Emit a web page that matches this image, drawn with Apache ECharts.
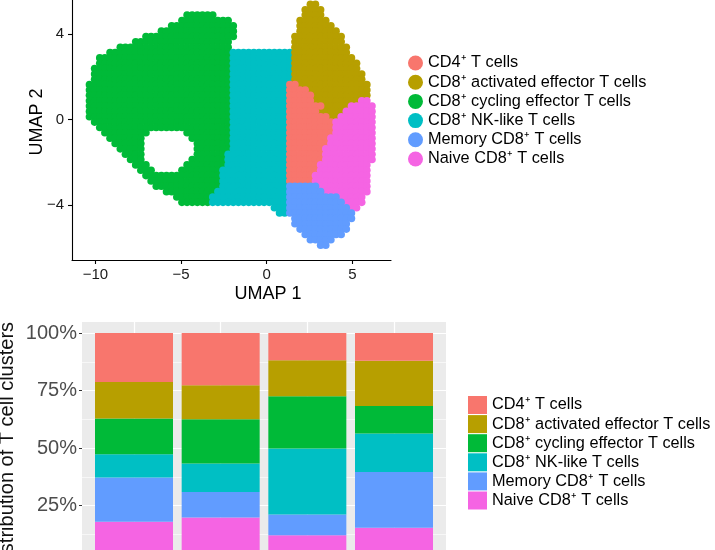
<!DOCTYPE html>
<html>
<head>
<meta charset="utf-8">
<script src="https://cdn.jsdelivr.net/npm/echarts@6/dist/echarts.min.js"></script>
<style>
  html, body { margin: 0; padding: 0; background: #fff; }
  #chart { width: 715px; height: 550px; }
</style>
</head>
<body>
<div id="chart"></div>
<script>
// clusters (legend order)
var clusterNames = ['CD4⁺ T cells', 'CD8⁺ activated effector T cells', 'CD8⁺ cycling effector T cells',
  'CD8⁺ NK-like T cells', 'Memory CD8⁺ T cells', 'Naive CD8⁺ T cells'];
var clusterCodes = ['R', 'Y', 'G', 'C', 'B', 'P'];
var clusterColors = ['#F8766D', '#B79F00', '#00BA38', '#00BFC4', '#619CFF', '#F564E3'];

// UMAP tick labels
var umap1Ticks = [-10, -5, 0, 5];
var umap2Ticks = [-4, 0, 4];

// UMAP map: one entry per row (UMAP 2 from 5.375 down in 0.25 steps),
// each segment = cluster code + first-last column (UMAP 1 from -10.65 in 0.3 steps)
var umapX0 = -10.65, umapDX = 0.3;
var umapY0 = 5.375, umapDY = 0.25;
var umapRows = [
  'Y44-45',
  'Y43-46',
  'G20-25 Y43-46',
  'G19-28 Y42-47',
  'G17-29 Y42-48',
  'G15-29 Y42-49',
  'G12-29 Y41-50',
  'G10-28 Y41-50',
  'G7-28 Y41-51',
  'G5-28 C29-40 Y41-51',
  'G3-28 C29-40 Y41-52',
  'G3-28 C29-40 Y41-53',
  'G2-28 C29-40 Y41-53',
  'G2-28 C29-40 Y41-54',
  'G2-28 C29-40 Y41-54',
  'G1-28 C29-39 R40-41 Y42-55',
  'G1-28 C29-39 R40-43 Y44-55',
  'G1-28 C29-39 R40-44 Y45-55',
  'G1-28 C29-39 R40-44 Y45-53 P54-55',
  'G1-28 C29-39 R40-46 Y47-51 P52-56',
  'G1-28 C29-39 R40-45 Y46-50 P51-56',
  'G1-28 C29-39 R40-47 Y48-49 P50-56',
  'G2-28 C29-39 R40-48 P49-56',
  'G3-28 C29-39 R40-48 P49-56',
  'G4-12 G20-28 C29-39 R40-48 P49-56',
  'G5-11 G21-28 C29-39 R40-47 P48-56',
  'G6-11 G22-28 C29-39 R40-47 P48-56',
  'G7-11 G22-28 C29-39 R40-46 P47-56',
  'G8-11 G22-27 C28-39 R40-46 P47-56',
  'G9-11 G21-27 C28-39 R40-46 P47-56',
  'G10-12 G20-27 C28-39 R40-45 P46-55',
  'G11-13 G19-26 C27-39 R40-45 P46-55',
  'G12-26 C27-39 R40-44 P45-55',
  'G13-26 C27-39 R40-44 P45-55',
  'G14-26 C27-39 B40-45 P46-55',
  'G16-25 C26-39 B40-46 P47-55',
  'G18-24 C25-39 B40-49 P50-54',
  'G19-24 C25-39 B40-50 P51-54',
  'C37-39 B40-51 P52-53',
  'C38-39 B40-52',
  'B41-52',
  'B41-51',
  'B42-51',
  'B43-50',
  'B44-48',
  'B46-47'
];

// stacked bars (percent of T cells per sample)
var sampleNames = ['Sample 1', 'Sample 2', 'Sample 3', 'Sample 4'];
var cd4Pct       = [21.3, 22.7, 11.8, 12.1];
var activatedPct = [15.9, 14.8, 15.7, 19.6];
var cyclingPct   = [15.5, 19.2, 22.7, 12.0];
var nkLikePct    = [10.1, 12.4, 28.7, 16.7];
var memoryPct    = [19.3, 11.1,  9.0, 24.3];
var naivePct     = [17.9, 19.8, 12.1, 15.3];

var FONT = '"Liberation Sans", Arial, Helvetica, sans-serif';

// build the UMAP points per cluster
var umapPoints = {};
clusterCodes.forEach(function (c) { umapPoints[c] = []; });
umapRows.forEach(function (row, j) {
  row.split(' ').forEach(function (seg) {
    var code = seg.charAt(0);
    var range = seg.substring(1).split('-');
    for (var i = +range[0]; i <= +range[1]; i++) {
      umapPoints[code].push([umapX0 + umapDX * i, umapY0 - umapDY * j]);
    }
  });
});

var chart = echarts.init(document.getElementById('chart'));

var series = [];
// scatter: draw big clusters first
[2, 3, 1, 0, 5, 4].forEach(function (k) {
  series.push({
    type: 'scatter',
    name: clusterNames[k],
    xAxisIndex: 0,
    yAxisIndex: 0,
    symbol: 'circle',
    symbolSize: 7.6,
    itemStyle: { color: clusterColors[k], opacity: 1 },
    data: umapPoints[clusterCodes[k]],
    silent: true
  });
});

// bars: bottom of the stack first
var barValues = [cd4Pct, activatedPct, cyclingPct, nkLikePct, memoryPct, naivePct];
[5, 4, 3, 2, 1, 0].forEach(function (k) {
  series.push({
    type: 'bar',
    name: clusterNames[k],
    xAxisIndex: 2,
    yAxisIndex: 2,
    stack: 'total',
    barWidth: 78,
    itemStyle: { color: clusterColors[k] },
    data: barValues[k],
    silent: true
  });
});

var minus = function (v) { return String(v).replace('-', '\u2212'); };

var option = {
  animation: false,
  textStyle: { fontFamily: FONT },
  grid: [
    { left: 72, top: 0, width: 319, height: 260, outerBoundsMode: 'none' },
    // grey panel
    { left: 82, top: 322, width: 364, height: 241, show: true, backgroundColor: '#EBEBEB', borderWidth: 0, outerBoundsMode: 'none' },
    // bars
    { left: 90.67, top: 333, width: 346.67, height: 230, outerBoundsMode: 'none' },
    // horizontal grid lines + percent axis
    { left: 82, top: 333, width: 364, height: 230, outerBoundsMode: 'none' }
  ],
  xAxis: [
    {
      type: 'value', gridIndex: 0, min: -11.37, max: 7.26,
      axisLine: { onZero: false, lineStyle: { color: '#000', width: 1.1 } },
      axisTick: { customValues: umap1Ticks, length: 4, lineStyle: { color: '#000', width: 1.1 } },
      axisLabel: { customValues: umap1Ticks, formatter: minus, fontSize: 15, color: '#1a1a1a', margin: 7, fontFamily: FONT },
      splitLine: { show: false }
    },
    {
      type: 'value', gridIndex: 1, min: 0.4, max: 4.6,
      axisLine: { show: false }, axisTick: { show: false }, axisLabel: { show: false },
      splitLine: { show: true, showMinLine: false, showMaxLine: false, lineStyle: { color: '#fff', width: 1.2 } }
    },
    {
      type: 'category', gridIndex: 2, data: sampleNames, boundaryGap: true, show: false
    },
    {
      type: 'value', gridIndex: 3, min: 0, max: 1, show: false
    }
  ],
  yAxis: [
    {
      type: 'value', gridIndex: 0, min: -6.57, max: 5.58,
      axisLine: { onZero: false, lineStyle: { color: '#000', width: 1.1 } },
      axisTick: { customValues: umap2Ticks, length: 4, lineStyle: { color: '#000', width: 1.1 } },
      axisLabel: { customValues: umap2Ticks, formatter: minus, fontSize: 15, color: '#1a1a1a', margin: 8, fontFamily: FONT },
      splitLine: { show: false }
    },
    {
      type: 'value', gridIndex: 1, min: 0, max: 1, show: false
    },
    {
      type: 'value', gridIndex: 2, min: 0, max: 100, show: false
    },
    {
      type: 'value', gridIndex: 3, min: 0, max: 100, interval: 25,
      axisLine: { show: false },
      axisTick: { show: true, length: 3, lineStyle: { color: '#333', width: 1 } },
      axisLabel: { formatter: '{value}%', fontSize: 20, color: '#4D4D4D', margin: 5, fontFamily: FONT },
      splitLine: { show: true, lineStyle: { color: '#fff', width: 1.2 } },
      minorTick: { show: false, splitNumber: 2 },
      minorSplitLine: { show: true, lineStyle: { color: '#fff', width: 0.6 } }
    }
  ],
  legend: [
    {
      orient: 'vertical', left: 403, top: 50,
      itemWidth: 15, itemHeight: 15, itemGap: 3.2,
      selectedMode: false,
      textStyle: { fontSize: 16.3, color: '#000', fontFamily: FONT },
      data: clusterNames.map(function (n) { return { name: n, icon: 'circle' }; })
    },
    {
      orient: 'vertical', left: 463, top: 391,
      itemWidth: 19, itemHeight: 18, itemGap: 1.1,
      selectedMode: false,
      textStyle: { fontSize: 16.3, color: '#000', fontFamily: FONT },
      data: clusterNames.map(function (n) { return { name: n, icon: 'rect' }; })
    }
  ],
  graphic: [
    { type: 'text', x: 268, y: 294, style: { text: 'UMAP 1', fontSize: 18, fontFamily: FONT, fill: '#000', align: 'center', verticalAlign: 'middle' } },
    { type: 'text', x: 37, y: 122, rotation: Math.PI / 2, style: { text: 'UMAP 2', fontSize: 18, fontFamily: FONT, fill: '#000', align: 'center', verticalAlign: 'middle' } },
    { type: 'text', x: 7, y: 447, rotation: Math.PI / 2, style: { text: 'Distribution of T cell clusters', fontSize: 20, fontFamily: FONT, fill: '#111', align: 'center', verticalAlign: 'middle' } }
  ],
  series: series
};

chart.setOption(option);
</script>
</body>
</html>
